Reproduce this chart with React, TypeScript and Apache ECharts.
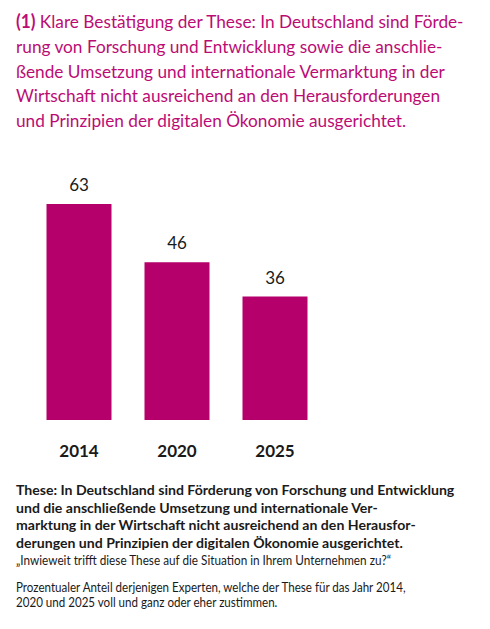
import React, { useEffect, useRef } from 'react';
import * as echarts from 'echarts';

const years = ['2014', '2020', '2025'];
const shares = [63, 46, 36];

const titleNumber = '(1)';
const titleLines = [
  ' Klare Bestätigung der These: In Deutschland sind Förde-',
  'rung von Forschung und Entwicklung sowie die anschlie-',
  'ßende Umsetzung und internationale Vermarktung in der',
  'Wirtschaft nicht ausreichend an den Herausforderungen',
  'und Prinzipien der digitalen Ökonomie ausgerichtet.',
];
const thesisLines = [
  'These: In Deutschland sind Förderung von Forschung und Entwicklung',
  'und die anschließende Umsetzung und internationale Ver-',
  'marktung in der Wirtschaft nicht ausreichend an den Herausfor-',
  'derungen und Prinzipien der digitalen Ökonomie ausgerichtet.',
];
const questionLine = '„Inwieweit trifft diese These auf die Situation in Ihrem Unternehmen zu?“';
const noteLines = [
  'Prozentualer Anteil derjenigen Experten, welche der These für das Jahr 2014,',
  '2020 und 2025 voll und ganz oder eher zustimmen.',
];

const FONT = 'Lato';
const MAGENTA = '#b5006b';
const TITLE_PINK = '#bb0c74';
const DARK = '#1a1a1a';

// width of a string in px for the given font, used to squeeze lines to the reference width
const measure = (text: string, size: number, weight = 'normal') => {
  const ctx = document.createElement('canvas').getContext('2d') as CanvasRenderingContext2D;
  ctx.font = `${weight} ${size}px ${FONT}`;
  return ctx.measureText(text).width;
};

const App: React.FC = () => {
  const chartRef = useRef<HTMLDivElement>(null);

  useEffect(() => {
    const chart = echarts.init(chartRef.current as HTMLDivElement, undefined, { renderer: 'svg' });

    const titleSize = 18;
    const titleScale =
      449 / (measure(titleNumber, titleSize, 'bold') + measure(titleLines[0], titleSize));
    const titleY = [21.5, 46.2, 71, 95.7, 120.3];

    const thesisSize = 14;
    const thesisScale = 439 / measure(thesisLines[0], thesisSize, 'bold');
    const thesisY = [489.7, 507.3, 525, 542.6];

    const smallSize = 12.5;
    const questionScale = 376 / measure(questionLine, smallSize);
    const noteScale = 392 / measure(noteLines[0], smallSize);
    const noteY = [587, 602];

    const graphics: any[] = [];
    titleLines.forEach((line, i) => {
      graphics.push({
        type: 'text',
        x: 16,
        y: titleY[i],
        scaleX: titleScale,
        style: {
          text: i === 0 ? `{b|${titleNumber}}${line}` : line,
          fontFamily: FONT,
          fontSize: titleSize,
          fill: TITLE_PINK,
          verticalAlign: 'middle',
          rich: i === 0 ? { b: { fontWeight: 'bold', fontSize: titleSize, fontFamily: FONT, fill: TITLE_PINK } } : undefined,
        },
      });
    });
    thesisLines.forEach((line, i) => {
      graphics.push({
        type: 'text',
        x: 16,
        y: thesisY[i],
        scaleX: thesisScale,
        style: {
          text: line,
          fontFamily: FONT,
          fontSize: thesisSize,
          fontWeight: 'bold',
          fill: DARK,
          verticalAlign: 'middle',
        },
      });
    });
    graphics.push({
      type: 'text',
      x: 16,
      y: 560.2,
      scaleX: questionScale,
      style: { text: questionLine, fontFamily: FONT, fontSize: smallSize, fill: DARK, verticalAlign: 'middle' },
    });
    noteLines.forEach((line, i) => {
      graphics.push({
        type: 'text',
        x: 16,
        y: noteY[i],
        scaleX: noteScale,
        style: { text: line, fontFamily: FONT, fontSize: smallSize, fill: DARK, verticalAlign: 'middle' },
      });
    });

    const option = {
      animation: false,
      backgroundColor: '#ffffff',
      grid: { left: 30, width: 294, top: 204, bottom: 209 },
      xAxis: {
        type: 'category',
        data: years,
        axisLine: { show: false },
        axisTick: { show: false },
        axisLabel: {
          margin: 22,
          fontFamily: FONT,
          fontSize: 17,
          fontWeight: 'bold',
          color: DARK,
        },
      },
      yAxis: {
        type: 'value',
        min: 0,
        max: 'dataMax',
        show: false,
      },
      series: [
        {
          type: 'bar',
          data: shares,
          barWidth: 65,
          itemStyle: { color: MAGENTA },
          label: {
            show: true,
            position: 'top',
            distance: 11,
            fontFamily: FONT,
            fontSize: 17,
            color: DARK,
          },
        },
      ],
      graphic: graphics,
    };

    chart.setOption(option);

    return () => {
      chart.dispose();
    };
  }, []);

  return (
    <div
      ref={chartRef}
      style={{ position: 'absolute', left: 0, top: 0, width: '490px', height: '629px' }}
    ></div>
  );
};

export default App;
